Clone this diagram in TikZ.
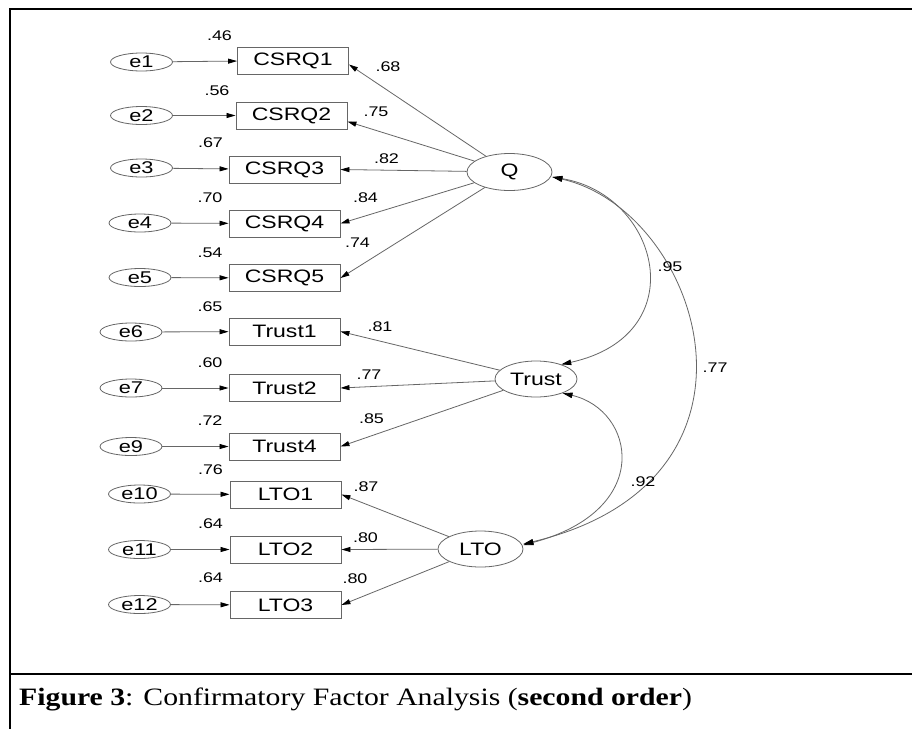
\documentclass[tikz,border=0pt]{standalone}
\usepackage{fontspec}
\setmainfont{Liberation Serif}
\newfontfamily\diag[FakeStretch=1.28]{Liberation Sans}
\newfontfamily\capfont[FakeStretch=1.19]{Liberation Serif}
\usetikzlibrary{shapes.geometric,arrows.meta}
\begin{document}
\begin{tikzpicture}[x=1pt,y=-1pt,
  obs/.style={draw=black!60, line width=0.9pt, minimum width=111pt, minimum height=27pt, inner sep=0pt, font=\diag\fontsize{18}{18}\selectfont},
  err/.style={ellipse, draw=black!60, line width=0.8pt, minimum width=62pt, minimum height=18pt, inner sep=0pt, font=\diag\fontsize{17}{17}\selectfont},
  lat/.style={ellipse, draw=black!60, line width=0.8pt, minimum width=85pt, minimum height=37pt, inner sep=0pt, font=\diag\fontsize{18}{18}\selectfont},
  lbl/.style={inner sep=0pt, font=\diag\fontsize{14}{14}\selectfont},
  pth/.style={draw=black!60, line width=0.8pt, -{Triangle[length=9pt,width=5pt,color=black]}},
  cov/.style={draw=black!60, line width=0.8pt, {Triangle[length=10pt,width=5.5pt,color=black]}-{Triangle[length=10pt,width=5.5pt,color=black]}},
  frame/.style={line width=2pt, draw=black}
]
\useasboundingbox (0,0) rectangle (912,729);
\fill[white] (0,0) rectangle (912,729);
% frame
\coordinate (ftr) at (912,9);
\coordinate (ftl) at (10,9);
\coordinate (fbl) at (10,729);
\coordinate (fsl) at (10,674);
\coordinate (fsr) at (912,674);
\draw[frame] (ftr) -- (ftl) -- (fbl);
\draw[frame] (fsl) -- (fsr);

% error terms
\node[err] (e1) at (141.5,62) {e1};
\node[err] (e2) at (141.5,115.5) {e2};
\node[err] (e3) at (141.5,168) {e3};
\node[err] (e4) at (140,223) {e4};
\node[err] (e5) at (140,277.5) {e5};
\node[err] (e6) at (131,332) {e6};
\node[err] (e7) at (131,388) {e7};
\node[err] (e9) at (131,446.5) {e9};
\node[err] (e10) at (139.5,494) {e10};
\node[err] (e11) at (139.5,549.5) {e11};
\node[err] (e12) at (139.5,604.5) {e12};

% observed
\node[obs] (q1) at (293,60.5) {CSRQ1};
\node[obs] (q2) at (291.5,115.5) {CSRQ2};
\node[obs] (q3) at (284.5,169.5) {CSRQ3};
\node[obs] (q4) at (284.5,223.5) {CSRQ4};
\node[obs] (q5) at (284.5,278) {CSRQ5};
\node[obs] (t1) at (284.5,331.5) {Trust1};
\node[obs] (t2) at (284.5,388) {Trust2};
\node[obs] (t4) at (284.5,446.5) {Trust4};
\node[obs] (l1) at (285.5,494.5) {LTO1};
\node[obs] (l2) at (285.5,549.5) {LTO2};
\node[obs] (l3) at (285.5,605) {LTO3};

% latent
\node[lat] (Q) at (509.5,172) {Q};
\node[lat, minimum width=82pt, minimum height=36pt] (T) at (536,379) {Trust};
\node[lat, minimum height=36pt] (L) at (480.5,549) {LTO};

% error arrows
\foreach \e/\o in {e1/q1,e2/q2,e3/q3,e4/q4,e5/q5,e6/t1,e7/t2,e9/t4,e10/l1,e11/l2,e12/l3}
  \draw[pth] (\e) -- (\o);

% loadings
\draw[pth] (Q) -- ([yshift=-4pt]q1.east);
\draw[pth] (Q) -- ([yshift=-6pt]q2.east);
\draw[pth] (Q) -- (q3.east);
\draw[pth] (Q) -- (q4.east);
\draw[pth] (Q) -- (q5.east);
\draw[pth] (T) -- (t1.east);
\draw[pth] (T) -- (t2.east);
\draw[pth] (T) -- (t4.east);
\draw[pth] (L) -- (l1.east);
\draw[pth] (L) -- (l2.east);
\draw[pth] (L) -- (l3.east);

% covariances
\draw[cov] ([yshift=-5pt]Q.east) .. controls (660,195) and (695,335) .. (T.30);
\draw[cov] ([yshift=-5pt]Q.east) .. controls (700,210) and (790,480) .. ([yshift=5pt]L.east);
\draw[cov] (T.-28) .. controls (635,410) and (655,510) .. ([yshift=4pt]L.east);

% squared multiple correlations
\node[lbl] (r1) at (219.5,36) {.46};
\node[lbl] (r2) at (217,90.5) {.56};
\node[lbl] (r3) at (210.5,143) {.67};
\node[lbl] (r4) at (210,198) {.70};
\node[lbl] (r5) at (210,252.5) {.54};
\node[lbl] (r6) at (210,306.5) {.65};
\node[lbl] (r7) at (210,362.5) {.60};
\node[lbl] (r9) at (210,420.5) {.72};
\node[lbl] (r10) at (210.5,470) {.76};
\node[lbl] (r11) at (210.5,523.5) {.64};
\node[lbl] (r12) at (210.5,578) {.64};

% loading labels
\node[lbl] (w1) at (388,67) {.68};
\node[lbl] (w2) at (376,112) {.75};
\node[lbl] (w3) at (386.5,158.5) {.82};
\node[lbl] (w4) at (365.5,198) {.84};
\node[lbl] (w5) at (357.5,242.5) {.74};
\node[lbl] (w6) at (380,327) {.81};
\node[lbl] (w7) at (369,374.5) {.77};
\node[lbl] (w8) at (371.5,418.5) {.85};
\node[lbl] (w9) at (366,487) {.87};
\node[lbl] (w10) at (365.5,537.5) {.80};
\node[lbl] (w11) at (355,579) {.80};

% covariance labels
\node[lbl] (c1) at (670,267) {.95};
\node[lbl] (c2) at (715,368) {.77};
\node[lbl] (c3) at (643,482) {.92};

% caption
\node[anchor=base west, inner sep=0pt, font=\capfont\fontsize{25}{30}\selectfont] (cap) at (19,705) {\textbf{Figure 3}: Confirmatory Factor Analysis (\textbf{second order})};
\end{tikzpicture}
\end{document}
